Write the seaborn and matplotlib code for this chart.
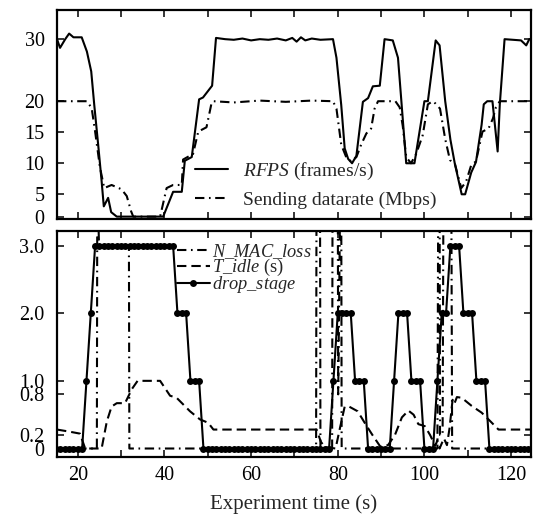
import matplotlib
matplotlib.use("Agg")
import matplotlib.pyplot as plt
import numpy as np
import seaborn as sns

# --- top panel: frame rate and sending datarate ---
rfps_t = [15.2, 15.9, 17.1, 18.0, 19.0, 20.9, 22.1, 23.1, 23.8, 24.7, 25.5, 26.0,
          27.0, 27.7, 29.0, 39.7, 42.0, 44.0, 44.7, 46.3, 48.0, 48.9, 51.0, 51.9,
          54.0, 56.0, 58.0, 60.0, 62.0, 64.0, 66.0, 68.0, 69.5, 70.5, 71.5, 72.5,
          74.0, 76.0, 78.9, 79.7, 80.8, 81.6, 82.4, 83.3, 84.3, 85.8, 87.0, 88.1,
          89.7, 90.8, 92.7, 93.9, 95.8, 97.7, 100.0, 100.8, 102.6, 103.5, 104.8,
          106.0, 107.0, 108.6, 109.4, 110.8, 111.9, 113.2, 113.7, 114.5, 115.7,
          116.9, 117.4, 118.5, 122.3, 123.5, 124.2, 124.6]
rfps_v = [30.0, 28.6, 30.0, 30.9, 30.3, 30.3, 28.0, 24.8, 19.4, 13.0, 7.1, 2.3,
          4.2, 1.0, 0.0, 0.0, 5.4, 5.4, 10.4, 11.0, 20.3, 20.6, 22.5, 30.2,
          30.0, 29.9, 30.1, 29.8, 30.0, 29.9, 30.1, 29.8, 30.2, 29.6, 30.3, 29.8,
          30.1, 29.9, 30.0, 27.0, 19.4, 12.4, 10.7, 10.0, 11.2, 19.9, 20.5, 22.4,
          22.5, 30.0, 29.8, 27.0, 10.0, 10.0, 20.0, 20.0, 29.8, 29.0, 20.0,
          13.8, 10.0, 5.0, 5.0, 8.5, 10.2, 16.2, 19.5, 20.0, 20.0,
          11.9, 19.5, 30.0, 29.8, 29.0, 30.0, 30.0]

rate_t = [15.2, 22.1, 23.2, 24.0, 25.1, 26.1, 27.8, 30.1, 31.3, 32.3, 32.8, 39.0,
          40.5, 42.0, 44.0, 44.3, 46.6, 47.8, 49.7, 50.9, 51.3, 56.0, 62.0, 68.0,
          74.0, 78.9, 79.7, 80.8, 82.0, 83.1, 84.3, 85.4, 86.6, 87.7, 88.5, 89.3,
          93.3, 94.3, 95.0, 95.8, 96.9, 98.1, 99.6, 100.8, 101.9, 102.6, 103.6,
          104.8, 105.9, 107.0, 108.5, 109.6, 110.8, 111.9, 113.4, 114.8, 115.8,
          116.5, 117.4, 124.6]
rate_v = [20.0, 20.0, 18.9, 15.1, 9.4, 6.0, 6.5, 5.8, 4.6, 1.2, 0.0, 0.0,
          6.0, 6.5, 6.5, 10.6, 11.5, 15.1, 15.8, 19.8, 20.0, 19.8, 20.1, 19.9,
          20.1, 20.0, 18.8, 13.0, 10.9, 10.3, 11.0, 13.0, 14.8, 15.6, 18.8, 20.0,
          20.0, 19.0, 16.0, 11.0, 10.0, 11.5, 14.5, 19.5, 20.0, 19.6, 18.8,
          13.9, 10.5, 10.0, 6.0, 7.0, 9.7, 10.3, 15.1, 15.6, 17.2,
          19.0, 20.0, 20.0]

# --- bottom panel ---
mac_t = [15.2, 24.4, 24.5, 24.9, 31.8, 31.9, 75.0, 75.1, 75.9, 76.0, 78.7, 78.8,
         80.0, 80.1, 80.6, 80.8, 80.9, 103.0, 103.2, 103.5, 103.6, 104.2, 104.4,
         106.2, 106.4, 124.6]
mac_v = [0.0, 0.0, 4.0, 3.0, 3.0, 0.0, 0.0, 4.0, 4.0, 0.0, 0.0, 4.0,
         4.0, 0.8, 4.0, 4.0, 0.0, 0.0, 4.0, 4.0, 0.2, 0.2, 4.0,
         4.0, 0.0, 0.0]

idle_t = [15.2, 18.0, 20.5, 21.7, 25.5, 26.7, 27.8, 29.0, 30.9, 32.5, 33.8, 39.0,
          41.3, 42.8, 45.9, 48.2, 50.1, 51.3, 75.1, 76.1, 77.0, 79.5, 80.5, 81.6,
          82.6, 84.6, 86.5, 88.0, 89.8, 91.6, 93.2, 94.8, 96.3, 97.5, 98.6, 100.1,
          101.3, 102.5, 103.0, 103.5, 104.5, 105.2, 105.8, 106.5, 106.9, 107.5,
          108.6, 110.9, 113.2, 115.1, 117.1, 124.6]
idle_v = [0.28, 0.25, 0.22, 0.0, 0.0, 0.4, 0.62, 0.67, 0.67, 0.88, 1.0, 1.0,
          0.78, 0.75, 0.55, 0.43, 0.38, 0.28, 0.28, 0.1, 0.02, 0.0, 0.3, 0.62,
          0.62, 0.55, 0.35, 0.2, 0.03, 0.05, 0.2, 0.46, 0.56, 0.5, 0.36, 0.33,
          0.2, 0.04, 0.12, 0.0, 0.15, 0.05, 0.3, 0.72, 0.66, 0.76,
          0.75, 0.63, 0.53, 0.41, 0.28, 0.28]

stage_t = list(range(15, 125))
stage_v = [0, 0, 0, 0, 0, 0, 0, 1, 2,
           3, 3, 3, 3, 3, 3, 3, 3, 3, 3, 3, 3, 3, 3, 3, 3, 3, 3, 3,
           2, 2, 2, 1, 1, 1,
           0, 0, 0, 0, 0, 0, 0, 0, 0, 0, 0, 0, 0, 0, 0,
           0, 0, 0, 0, 0, 0, 0, 0, 0, 0, 0, 0, 0, 0, 0,
           1, 2, 2, 2, 2, 1, 1, 1,
           0, 0, 0, 0, 0, 0,
           1, 2, 2, 2, 1, 1, 1,
           0, 0, 0,
           1, 2, 2, 3, 3, 3, 2, 2, 2, 1, 1, 1,
           0, 0, 0, 0, 0, 0, 0, 0, 0, 0]

top_ticks = [0, 5, 10, 15, 20, 30]
top_grid = [5, 10, 20, 30]
bot_ticks = [0, 0.2, 0.8, 1.0, 2.0, 3.0]
bot_labels = ["0", "0.2", "0.8", "1.0", "2.0", "3.0"]
bot_grid = [0.2, 0.8]
x_ticks = list(range(20, 121, 10))
x_labels = ["20", "", "40", "", "60", "", "80", "", "100", "", "120"]

sns.set_theme(style="ticks")
plt.rcParams["font.family"] = ["Liberation Serif", "DejaVu Serif"]
plt.rcParams["mathtext.fontset"] = "custom"
plt.rcParams["mathtext.rm"] = "Liberation Serif"
plt.rcParams["mathtext.it"] = "Liberation Serif:italic"
plt.rcParams["axes.linewidth"] = 1.6
plt.rcParams["axes.edgecolor"] = "black"


def squeeze_low(v):
    # the 0..5 band of the top axis is drawn narrower than the rest
    v = np.asarray(v, dtype=float)
    return np.where(v >= 5, v, 5 - (5 - v) * 0.72)


def unsqueeze_low(f):
    f = np.asarray(f, dtype=float)
    return np.where(f >= 5, f, 5 - (5 - f) / 0.72)


fig = plt.figure(figsize=(5.38, 5.2), dpi=100)
ax1 = fig.add_axes([57 / 538, 1 - 218.5 / 520, 474 / 538, 208.5 / 520])
ax2 = fig.add_axes([57 / 538, 1 - 457.3 / 520, 474 / 538, 226 / 520])

ax1.set_yscale("function", functions=(squeeze_low, unsqueeze_low))

dashdot = (0, (4.5, 2.2, 0.8, 2.2))
dashed = (0, (4.5, 2.4))

sns.lineplot(x=rfps_t, y=rfps_v, ax=ax1, color="black", lw=1.5,
             estimator=None, sort=False, label=r"$\mathit{RFPS}$ (frames/s)")
sns.lineplot(x=rate_t, y=rate_v, ax=ax1, color="black", lw=1.5, linestyle=dashdot,
             estimator=None, sort=False, label="Sending datarate (Mbps)")

sns.lineplot(x=mac_t, y=mac_v, ax=ax2, color="black", lw=1.5, linestyle=dashdot,
             estimator=None, sort=False, label=r"$\mathit{N\_MAC\_loss}$")
sns.lineplot(x=idle_t, y=idle_v, ax=ax2, color="black", lw=1.5, linestyle=dashed,
             estimator=None, sort=False, label=r"$\mathit{T\_idle}$ (s)")
sns.lineplot(x=stage_t, y=stage_v, ax=ax2, color="black", lw=1.5, marker="o",
             markersize=5, markeredgewidth=0, estimator=None, sort=False,
             label=r"$\mathit{drop\_stage}$")

for ax in (ax1, ax2):
    ax.set_xlim(15.2, 124.6)
    ax.set_xticks(x_ticks)
    ax.tick_params(axis="both", which="major", direction="in", top=True, right=True,
                   length=5, width=1.1, labelsize=14.5, colors="black")
    ax.tick_params(axis="y", which="major", pad=9)
    ax.tick_params(axis="x", which="major", pad=6)
    ax.tick_params(axis="y", which="minor", length=0)
    ax.grid(False)
    ax.set_ylabel("")
    for s in ax.spines.values():
        s.set_color("black")

ax1.set_ylim(-0.42, 34.7)
ax1.set_yticks(top_ticks)
ax1.set_yticklabels([str(v) for v in top_ticks])
ax1.set_yticks(top_grid, minor=True)
ax1.grid(which="minor", axis="y", color="black", lw=0.6, linestyle=(0, (1, 1.5)))
ax1.set_xticklabels([])

ax2.set_ylim(-0.13, 3.21)
ax2.set_yticks(bot_ticks)
ax2.set_yticklabels(bot_labels)
ax2.set_yticks(bot_grid, minor=True)
ax2.grid(which="minor", axis="y", color="black", lw=0.6, linestyle=(0, (1, 1.5)))
ax2.set_xticklabels(x_labels)
ax2.set_xlabel("Experiment time (s)", fontsize=15, labelpad=7)

ax1.legend(loc="upper left", bbox_to_anchor=(0.291, 0.275), frameon=False,
           fontsize=14, handlelength=1.7, handletextpad=0.77, labelspacing=0.44,
           borderpad=0, borderaxespad=0)
ax2.legend(loc="upper left", bbox_to_anchor=(0.253, 0.952), frameon=False,
           fontsize=13.2, handlelength=1.8, handletextpad=0.1, labelspacing=-0.22,
           borderpad=0, borderaxespad=0)

fig.savefig("out.png", dpi=100)
